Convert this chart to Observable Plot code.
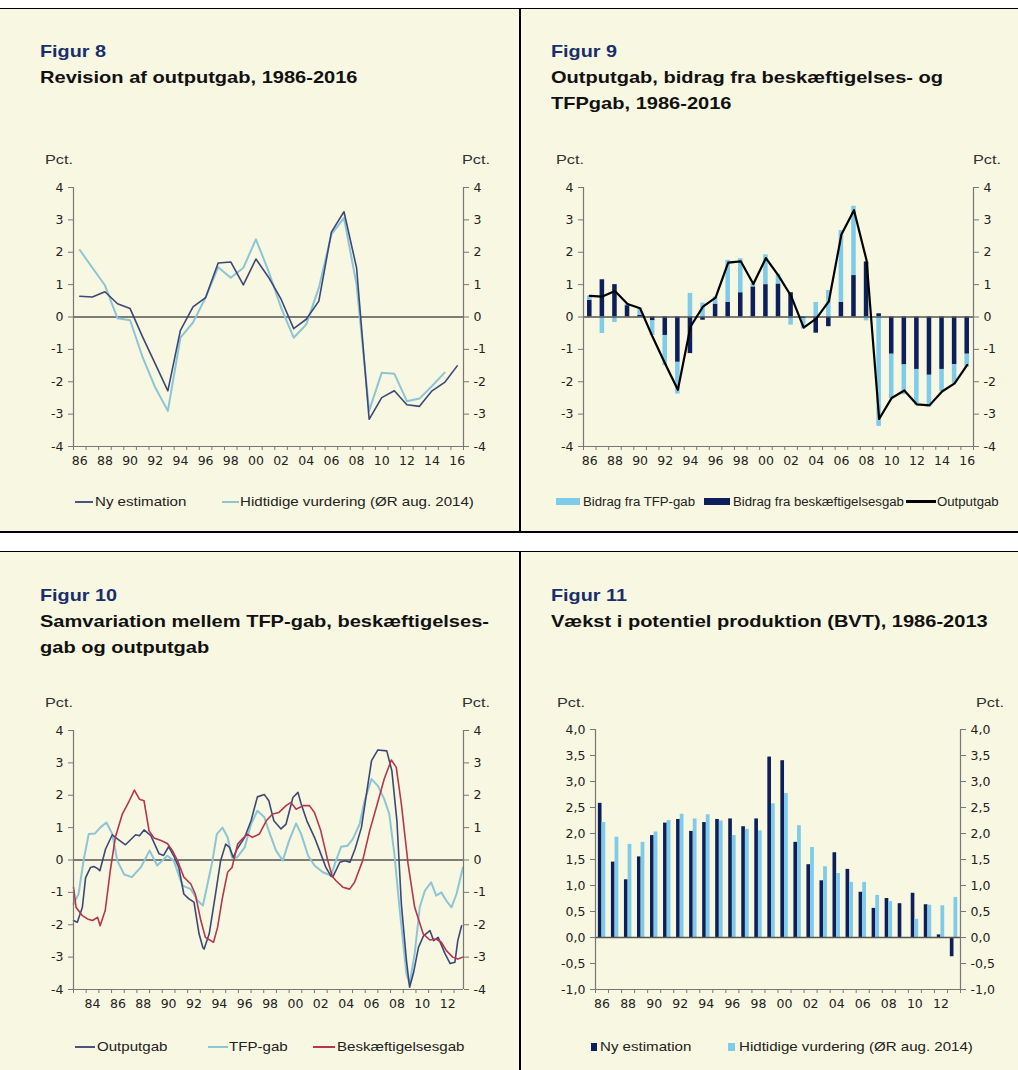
<!DOCTYPE html>
<html><head><meta charset="utf-8">
<script src="https://cdn.jsdelivr.net/npm/d3@7"></script>
<script src="https://cdn.jsdelivr.net/npm/@observablehq/plot@0.6"></script>
<style>
body{margin:0;background:#fff;}
#root{position:relative;width:1018px;height:1070px;font-family:"Liberation Sans",Arial,sans-serif;color:#222;overflow:hidden;background:#fff}
.bg{position:absolute;left:0;width:1018px;background:#f8f7e1}
.vline{position:absolute;left:519px;width:1.5px;background:#000}
.hline{position:absolute;left:0;width:1018px;height:1.5px;background:#000}
.fig{position:absolute;font-weight:bold;font-size:16.5px;line-height:20px;color:#1a2e6c;white-space:nowrap;transform:scaleX(1.2);transform-origin:0 0}
.title{position:absolute;font-weight:bold;font-size:16.5px;line-height:26px;color:#111;white-space:nowrap;transform:scaleX(1.215);transform-origin:0 0}
.pct{position:absolute;font-size:13px;color:#333;line-height:14px;transform:scaleX(1.25);transform-origin:0 0}
.chart{position:absolute}
.lg{position:absolute;font-size:13px;color:#222;white-space:nowrap;line-height:16px;transform:scaleX(1.16);transform-origin:0 0}
.lg2{position:absolute;font-size:12px;color:#222;white-space:nowrap;line-height:16px;transform:scaleX(1.1);transform-origin:0 0}
.sw{position:absolute}
</style></head>
<body>
<div id="root">
  <div class="bg" style="top:8px;height:524px"></div>
  <div class="bg" style="top:551px;height:519px"></div>
  <div class="hline" style="top:7.5px"></div>
  <div class="hline" style="top:531px"></div>
  <div class="hline" style="top:550.5px"></div>
  <div class="vline" style="top:8px;height:524px"></div>
  <div class="vline" style="top:551px;height:519px"></div>

  <div class="fig" style="left:40px;top:41px">Figur 8</div>
  <div class="title" style="left:40px;top:64px">Revision af outputgab, 1986-2016</div>
  <div class="fig" style="left:551px;top:41px">Figur 9</div>
  <div class="title" style="left:551px;top:64px">Outputgab, bidrag fra beskæftigelses- og<br>TFPgab, 1986-2016</div>
  <div class="fig" style="left:40px;top:585px">Figur 10</div>
  <div class="title" style="left:40px;top:608px">Samvariation mellem TFP-gab, beskæftigelses-<br>gab og outputgab</div>
  <div class="fig" style="left:551px;top:585px">Figur 11</div>
  <div class="title" style="left:551px;top:608px">Vækst i potentiel produktion (BVT), 1986-2013</div>

  <div class="pct" style="left:45px;top:153px">Pct.</div>
  <div class="pct" style="left:462px;top:153px">Pct.</div>
  <div class="pct" style="left:556px;top:153px">Pct.</div>
  <div class="pct" style="left:973px;top:153px">Pct.</div>
  <div class="pct" style="left:45px;top:696px">Pct.</div>
  <div class="pct" style="left:462px;top:696px">Pct.</div>
  <div class="pct" style="left:557px;top:696px">Pct.</div>
  <div class="pct" style="left:976px;top:696px">Pct.</div>

  <div id="c8" class="chart" style="left:0;top:170px"></div>
  <div id="c9" class="chart" style="left:520px;top:170px"></div>
  <div id="c10" class="chart" style="left:0;top:713px"></div>
  <div id="c11" class="chart" style="left:520px;top:712px"></div>

  <!-- legends -->
  <div class="sw" style="left:75px;top:501px;width:18px;height:2px;background:#4a5680"></div>
  <div class="lg" style="left:95px;top:494px">Ny estimation</div>
  <div class="sw" style="left:222px;top:501px;width:17px;height:2px;background:#8cc5d6"></div>
  <div class="lg" style="left:240px;top:494px">Hidtidige vurdering (ØR aug. 2014)</div>

  <div class="sw" style="left:556px;top:498px;width:24px;height:7px;background:#7ecbea"></div>
  <div class="lg2" style="left:583px;top:494px">Bidrag fra TFP-gab</div>
  <div class="sw" style="left:704px;top:498px;width:26px;height:7px;background:#0c1f5a"></div>
  <div class="lg2" style="left:733px;top:494px">Bidrag fra beskæftigelsesgab</div>
  <div class="sw" style="left:906px;top:500px;width:30px;height:2.5px;background:#000"></div>
  <div class="lg2" style="left:937px;top:494px">Outputgab</div>

  <div class="sw" style="left:75px;top:1046px;width:20px;height:2px;background:#4a5680"></div>
  <div class="lg" style="left:97px;top:1039px">Outputgab</div>
  <div class="sw" style="left:208px;top:1046px;width:20px;height:2px;background:#8cc5d6"></div>
  <div class="lg" style="left:229px;top:1039px">TFP-gab</div>
  <div class="sw" style="left:313px;top:1046px;width:22px;height:2px;background:#b5364e"></div>
  <div class="lg" style="left:337px;top:1039px">Beskæftigelsesgab</div>

  <div class="sw" style="left:591px;top:1043px;width:6px;height:8px;background:#0c1f5a"></div>
  <div class="lg" style="left:600px;top:1039px">Ny estimation</div>
  <div class="sw" style="left:728px;top:1043px;width:7px;height:8px;background:#7ecbea"></div>
  <div class="lg" style="left:739px;top:1039px">Hidtidige vurdering (ØR aug. 2014)</div>
</div>
<script>
// ---------- DATA ----------
// Figur 8 / 9: years 1986-2016
const years = [1986,1987,1988,1989,1990,1991,1992,1993,1994,1995,1996,1997,1998,1999,2000,2001,2002,2003,2004,2005,2006,2007,2008,2009,2010,2011,2012,2013,2014,2015,2016];
const ny8 = [0.64,0.62,0.78,0.41,0.26,-0.62,-1.45,-2.28,-0.41,0.31,0.6,1.67,1.7,0.99,1.79,1.23,0.55,-0.36,-0.07,0.49,2.62,3.25,1.52,-3.16,-2.49,-2.28,-2.71,-2.76,-2.28,-2.02,-1.51];
const hid8 = [2.07,1.52,0.98,-0.04,-0.1,-1.25,-2.18,-2.9,-0.64,-0.17,0.6,1.54,1.21,1.52,2.4,1.42,0.29,-0.64,-0.23,0.9,2.55,3.06,1.0,-2.9,-1.72,-1.75,-2.6,-2.52,-2.13,-1.72];

const tfp9 = [0.13,-0.51,-0.17,0.05,0.22,-0.45,-0.93,-0.98,0.73,0.43,0.22,1.3,1.05,0.1,0.92,0.3,-0.25,-0.32,0.45,0.82,2.22,2.14,-0.12,-3.38,-1.37,-0.92,-1.1,-0.98,-0.68,-0.58,-0.4];
const emp9 = [0.52,1.15,1.0,0.35,0.05,-0.12,-0.57,-1.4,-1.13,-0.1,0.4,0.45,0.75,0.93,1.0,1.02,0.75,-0.05,-0.5,-0.3,0.45,1.28,1.7,0.1,-1.15,-1.48,-1.62,-1.8,-1.62,-1.47,-1.15];
const out9 = [0.65,0.63,0.8,0.4,0.27,-0.62,-1.45,-2.25,-0.3,0.32,0.6,1.68,1.72,1.02,1.82,1.28,0.65,-0.33,-0.05,0.48,2.55,3.3,1.75,-3.15,-2.5,-2.27,-2.7,-2.73,-2.3,-2.05,-1.48];

// Figur 10: quarterly series (time in years, value in pct.)
const outT = [1983.0,1983.3,1983.7,1983.95,1984.34,1984.6,1984.85,1985.08,1985.53,1986.06,1986.3,1987.1,1987.9,1988.2,1988.56,1989.1,1989.75,1990.1,1990.5,1990.9,1991.3,1991.7,1992.1,1992.5,1992.9,1993.2,1993.3,1993.7,1994.2,1994.6,1995.0,1995.3,1995.6,1995.9,1996.5,1997.0,1997.5,1998.05,1998.4,1998.8,1999.36,1999.76,2000.3,2000.7,2000.95,2001.4,2002.0,2002.5,2002.9,2003.3,2003.45,2004.0,2004.4,2004.8,2005.2,2005.7,2006.1,2006.5,2007.0,2007.7,2008.1,2008.5,2008.85,2009.25,2009.5,2009.8,2010.2,2010.6,2011.1,2011.4,2011.75,2012.3,2012.7,2013.07,2013.3,2013.6];
const outV = [-1.87,-1.92,-1.46,-0.55,-0.23,-0.2,-0.25,-0.33,0.34,0.78,0.7,0.47,0.78,0.75,0.93,0.75,0.19,0.14,0.41,0.13,-0.23,-1.05,-1.2,-1.3,-2.28,-2.7,-2.75,-2.28,-1.05,-0.02,0.49,0.39,0.08,0.34,0.7,1.21,1.95,2.02,1.83,1.21,0.96,1.11,1.93,2.09,1.73,1.21,0.7,0.19,-0.23,-0.5,-0.52,-0.07,-0.02,-0.07,0.34,1.0,2.04,3.07,3.4,3.37,2.76,1.21,-1.36,-3.1,-3.93,-3.5,-2.7,-2.34,-2.18,-2.49,-2.39,-2.9,-3.2,-3.16,-2.49,-2.03];
const tfpT = [1983.0,1983.4,1983.8,1984.2,1984.7,1985.1,1985.6,1986.06,1986.45,1987.0,1987.6,1988.3,1989.0,1989.6,1990.4,1990.9,1991.6,1992.25,1992.8,1993.2,1993.4,1993.96,1994.3,1994.75,1995.15,1995.5,1995.9,1996.5,1997.0,1997.5,1998.05,1998.4,1998.97,1999.5,2000.0,2000.55,2000.95,2001.5,2002.0,2002.66,2003.3,2003.7,2004.1,2004.6,2005.03,2005.56,2005.95,2006.5,2007.0,2007.5,2007.9,2008.3,2008.7,2009.25,2009.5,2009.9,2010.3,2010.7,2011.2,2011.6,2012.0,2012.4,2012.8,2013.2,2013.7];
const tfpV = [-1.36,-1.05,0.0,0.8,0.82,1.0,1.16,0.8,-0.02,-0.45,-0.53,-0.23,0.29,-0.17,0.13,-0.02,-0.79,-0.9,-1.26,-1.41,-1.05,-0.02,0.8,1.0,0.7,0.08,0.08,0.39,1.11,1.52,1.32,0.9,0.29,-0.02,0.6,1.13,0.8,0.13,-0.17,-0.38,-0.48,-0.02,0.41,0.44,0.65,1.11,1.83,2.5,2.29,1.88,1.42,0.19,-1.46,-3.52,-3.83,-2.9,-1.46,-0.95,-0.69,-1.1,-1.0,-1.26,-1.46,-1.05,-0.23];
const empT = [1983.0,1983.2,1983.7,1984.1,1984.5,1984.9,1985.1,1985.5,1985.9,1986.3,1986.85,1987.4,1987.8,1988.2,1988.56,1988.96,1989.35,1989.9,1990.4,1990.8,1991.2,1991.7,1992.25,1992.6,1993.04,1993.4,1994.04,1994.36,1994.75,1995.15,1995.5,1995.94,1996.3,1996.7,1997.1,1997.65,1998.2,1998.7,1999.2,1999.76,2000.15,2000.55,2001.1,2001.6,2002.0,2002.5,2003.05,2003.4,2003.7,2004.24,2004.77,2005.16,2005.8,2006.35,2006.88,2007.5,2008.06,2008.45,2008.85,2009.38,2009.9,2010.57,2011.1,2011.6,2012.0,2012.4,2012.9,2013.3,2013.7];
const empV = [-0.84,-1.46,-1.72,-1.82,-1.87,-1.77,-2.03,-1.56,-0.33,0.7,1.42,1.83,2.16,1.88,1.83,0.9,0.68,0.6,0.51,0.29,-0.02,-0.53,-0.74,-1.05,-1.87,-2.39,-2.54,-2.08,-1.15,-0.38,-0.23,0.49,0.65,0.8,0.7,0.8,1.21,1.42,1.47,1.68,1.78,1.57,1.68,1.68,1.47,0.9,-0.02,-0.5,-0.64,-0.84,-0.9,-0.69,-0.02,0.9,1.63,2.5,3.09,2.86,1.73,-0.12,-1.46,-2.28,-2.47,-2.44,-2.54,-2.8,-3.0,-3.06,-3.0];

// Figur 11: years 1986-2013
const years11 = [1986,1987,1988,1989,1990,1991,1992,1993,1994,1995,1996,1997,1998,1999,2000,2001,2002,2003,2004,2005,2006,2007,2008,2009,2010,2011,2012,2013];
const ny11 = [2.58,1.45,1.11,1.55,1.96,2.2,2.27,2.04,2.21,2.27,2.28,2.13,2.28,3.47,3.4,1.83,1.4,1.09,1.63,1.31,0.87,0.56,0.75,0.65,0.85,0.63,0.05,-0.37];
const hid11 = [2.21,1.93,1.79,1.83,2.03,2.25,2.37,2.28,2.36,2.24,1.96,2.08,2.05,2.57,2.77,2.15,1.73,1.36,1.23,1.06,1.06,0.81,0.69,-0.02,0.35,0.62,0.61,0.77];

// tick values
const yTicks = [-4,-3,-2,-1,0,1,2,3,4];
const yTicks11 = [-1,-0.5,0,0.5,1,1.5,2,2.5,3,3.5,4];
const labelYears = [1986,1988,1990,1992,1994,1996,1998,2000,2002,2004,2006,2008,2010,2012,2014,2016];
const labelYears11 = [1986,1988,1990,1992,1994,1996,1998,2000,2002,2004,2006,2008,2010,2012];
const labelYears10 = [1984,1986,1988,1990,1992,1994,1996,1998,2000,2002,2004,2006,2008,2010,2012];

// ---------- COLORS ----------
const NAVY = "#3b4878", LIGHT = "#8cc5d6", RED = "#b5364e";
const BAR_DARK = "#0c1f5a", BAR_LIGHT = "#7ecbea";
const AXIS = "#777";
const FONT = "DejaVu Sans, Liberation Sans, Arial, sans-serif";

const yy = d => String(d % 100).padStart(2, "0");
const intFmt = d => String(d);
const commaFmt = d => d.toFixed(1).replace(".", ",");

function panel({width, height, ml, mr, mt, mb, xdom, ydom, yticks, yfmt, xticks, xlabels, xlabelAt, under, over}) {
  return Plot.plot({
    width, height, marginLeft: ml, marginRight: mr, marginTop: mt, marginBottom: mb,
    style: {background: "transparent", fontFamily: FONT, fontSize: "12.5px", color: "#222", overflow: "visible"},
    x: {type: "linear", domain: xdom, label: null},
    y: {type: "linear", domain: ydom, label: null},
    marks: [
      ...under,
      Plot.ruleY([0], {stroke: "#555", strokeWidth: 1.6}),
      ...over,
      Plot.ruleX(xdom, {stroke: AXIS, strokeWidth: 1.2}),
      Plot.ruleY([ydom[0]], {stroke: AXIS, strokeWidth: 1.2}),
      Plot.axisY({anchor: "left", ticks: yticks, tickFormat: yfmt, tickSize: 5, tickPadding: 5, stroke: AXIS, fill: "#222", label: null}),
      Plot.axisY({anchor: "right", ticks: yticks, tickFormat: yfmt, tickSize: 5, tickPadding: 5, stroke: AXIS, fill: "#222", label: null}),
      Plot.axisX({ticks: xticks, tickFormat: () => "", tickSize: 4, stroke: AXIS, label: null}),
      Plot.axisX(xlabels.map(xlabelAt), {ticks: xlabels.map(xlabelAt), tickFormat: (d) => yy(Math.floor(d)), tickSize: 0, tickPadding: 10, fill: "#222", label: null})
    ]
  });
}

const bounds = (a, b) => d3.range(a, b + 0.001, 1);

// ---------- Figur 8 ----------
const t8ny = years.map((yr, i) => ({yr, v: ny8[i]}));
const t8hid = hid8.map((v, i) => ({yr: years[i], v}));
document.getElementById("c8").append(panel({
  width: 520, height: 310, ml: 73, mr: 57, mt: 17, mb: 34,
  xdom: [1985.5, 2016.5], ydom: [-4, 4], yticks: yTicks, yfmt: intFmt,
  xticks: bounds(1985.5, 2016.5), xlabels: labelYears, xlabelAt: d => d,
  under: [],
  over: [
    Plot.line(t8hid, {x: "yr", y: "v", stroke: LIGHT, strokeWidth: 2}),
    Plot.line(t8ny, {x: "yr", y: "v", stroke: NAVY, strokeWidth: 1.6})
  ]
}));

// ---------- Figur 9 ----------
const stack9 = years.flatMap((yr, i) => {
  const e = emp9[i], t = tfp9[i];
  const base = Math.sign(t) === Math.sign(e) ? e : 0;
  return [
    {yr, s: "emp", y1: 0, y2: e},
    {yr, s: "tfp", y1: base, y2: base + t}
  ];
});
const t9out = years.map((yr, i) => ({yr, v: out9[i]}));
const hw9 = 0.18;
document.getElementById("c9").append(panel({
  width: 498, height: 310, ml: 63, mr: 45, mt: 17, mb: 34,
  xdom: [1985.5, 2016.5], ydom: [-4, 4], yticks: yTicks, yfmt: intFmt,
  xticks: bounds(1985.5, 2016.5), xlabels: labelYears, xlabelAt: d => d,
  under: [
    Plot.rect(stack9, {x1: d => d.yr - hw9, x2: d => d.yr + hw9, y1: "y1", y2: "y2",
      fill: d => d.s === "emp" ? BAR_DARK : BAR_LIGHT})
  ],
  over: [
    Plot.line(t9out, {x: "yr", y: "v", stroke: "#000", strokeWidth: 2.2})
  ]
}));

// ---------- Figur 10 ----------
const t10out = outT.map((t, i) => ({t, v: outV[i]}));
const t10tfp = tfpT.map((t, i) => ({t, v: tfpV[i]}));
const t10emp = empT.map((t, i) => ({t, v: empV[i]}));
document.getElementById("c10").append(panel({
  width: 520, height: 310, ml: 73, mr: 57, mt: 17, mb: 34,
  xdom: [1983, 2013.75], ydom: [-4, 4], yticks: yTicks, yfmt: intFmt,
  xticks: bounds(1983, 2013), xlabels: labelYears10, xlabelAt: d => d + 0.5,
  under: [],
  over: [
    Plot.line(t10tfp, {x: "t", y: "v", stroke: LIGHT, strokeWidth: 2}),
    Plot.line(t10out, {x: "t", y: "v", stroke: NAVY, strokeWidth: 1.6}),
    Plot.line(t10emp, {x: "t", y: "v", stroke: RED, strokeWidth: 1.6})
  ]
}));

// ---------- Figur 11 ----------
const t11 = years11.flatMap((yr, i) => [
  {yr, s: "ny", a: -0.28, b: 0, v: ny11[i]},
  {yr, s: "hid", a: 0, b: 0.29, v: hid11[i]}
]);
document.getElementById("c11").append(panel({
  width: 498, height: 310, ml: 75, mr: 58, mt: 17, mb: 33,
  xdom: [1985.5, 2013.5], ydom: [-1, 4], yticks: yTicks11, yfmt: commaFmt,
  xticks: bounds(1985.5, 2013.5), xlabels: labelYears11, xlabelAt: d => d,
  under: [
    Plot.rect(t11, {x1: d => d.yr + d.a, x2: d => d.yr + d.b, y1: 0, y2: "v",
      fill: d => d.s === "ny" ? BAR_DARK : BAR_LIGHT})
  ],
  over: []
}));
</script>
</body></html>
